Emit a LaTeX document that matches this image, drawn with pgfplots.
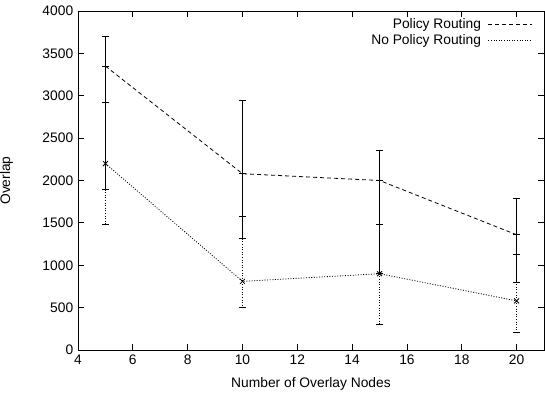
\documentclass[border=0pt]{standalone}
\usepackage{pgfplots}
\pgfplotsset{compat=1.18}
\usepackage{fontspec}
\setmainfont{Liberation Sans}
\begin{document}
\fontsize{13.8bp}{16bp}\selectfont
\begin{tikzpicture}
\begin{axis}[
  scale only axis,
  width=466bp, height=339bp,
  xmin=4, xmax=21, ymin=0, ymax=4000,
  xtick={4,6,...,20},
  ytick={0,500,...,4000},
  tick align=inside,
  major tick length=6bp,
  tick style={black, line width=0.8bp},
  axis line style={line width=0.8bp},
  /pgf/number format/assume math mode=true,
  /pgf/number format/1000 sep={},
  scaled ticks=false,
  tick label style={font=\fontsize{13.8bp}{16bp}\selectfont},
  label style={font=\fontsize{13.8bp}{16bp}\selectfont},
  xlabel={Number of Overlay Nodes},
  ylabel={Overlap},
  xlabel style={yshift=-4bp},
  ylabel style={yshift=20bp},
  legend plot pos=right,
  legend cell align=right,
  legend style={draw=none, fill=none, at={(1,1)}, anchor=north east,
    xshift=-8bp, yshift=-3bp, row sep=0bp,
    /tikz/every odd column/.append style={column sep=5bp},
    font=\fontsize{13.8bp}{16bp}\selectfont},
  legend image code/.code={\draw[#1] (0bp,0bp) -- (22bp,0bp) -- (44bp,0bp);},
]
\addplot[black, line width=0.8bp, dash pattern=on 4bp off 3bp,
  mark=+, mark size=3.5bp, mark options={solid},
  error bars/.cd, y dir=both, y explicit,
  error bar style={solid, line width=0.8bp},
  error mark options={rotate=90, mark size=3.5bp, solid}]
  table[x=x, y=y, y error plus=ep, y error minus=em] {
x  y     ep   em
5  3350  350  1450
10 2080  870  760
15 2000  360  1090
20 1360  430  560
};
\addlegendentry{Policy Routing}
\addplot[black, line width=0.8bp, dash pattern=on 1bp off 1.6bp,
  mark=x, mark size=3.5bp, mark options={solid},
  error bars/.cd, y dir=both, y explicit,
  error bar style={line width=0.8bp, dash pattern=on 1bp off 1.6bp},
  error mark options={rotate=90, mark size=3.5bp, solid}]
  table[x=x, y=y, y error plus=ep, y error minus=em] {
x  y     ep   em
5  2200  720  720
10 810   770  300
15 900   590  600
20 580   550  370
};
\addlegendentry{No Policy Routing}
\end{axis}
\pgfresetboundingbox
\path (-78bp,-46bp) rectangle (467bp,350bp);
\end{tikzpicture}
\end{document}
